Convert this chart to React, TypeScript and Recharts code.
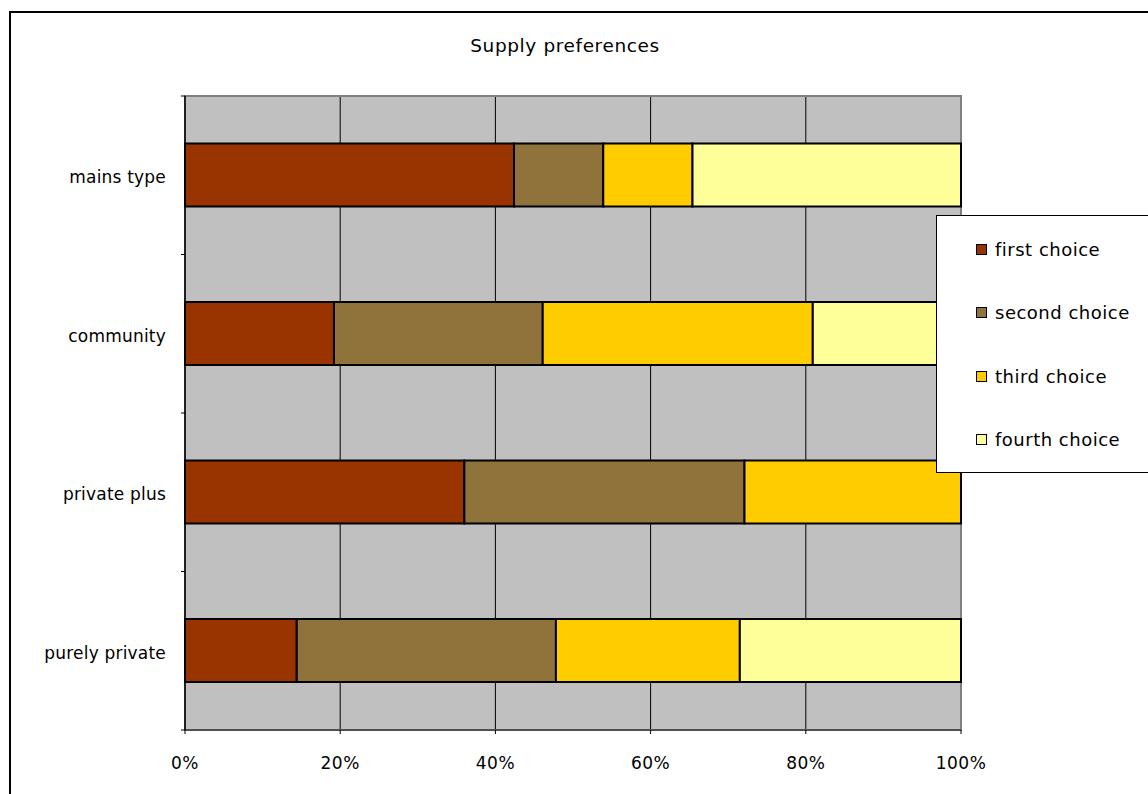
import React from "react";
import { BarChart, Bar, XAxis, YAxis, CartesianGrid, Legend, ReferenceArea } from "recharts";

const categories = ["mains type", "community", "private plus", "purely private"];
const seriesNames = ["first choice", "second choice", "third choice", "fourth choice"];
const seriesColors = ["#993300", "#8F733B", "#FFCC00", "#FFFF99"];
const firstChoice = [42.4, 19.2, 36.0, 14.4];
const secondChoice = [11.5, 26.9, 36.1, 33.4];
const thirdChoice = [11.5, 34.8, 27.9, 23.7];
const fourthChoice = [34.6, 19.1, 0, 28.5];
const xTicks = [0, 0.2, 0.4, 0.6, 0.8, 1];
const title = "Supply preferences";

const seriesValues = [firstChoice, secondChoice, thirdChoice, fourthChoice];
const data = categories.map((c, i) => {
  const row: Record<string, string | number> = { name: c };
  seriesNames.forEach((s, j) => {
    row[s] = seriesValues[j][i];
  });
  return row;
});

const FONT = "'DejaVu Sans', Verdana, sans-serif";
const TICK_SIZE = 4;
const TICK_MARGIN = 15;

const CategoryTick = (props: any) => {
  const { x, y, payload, index, visibleTicksCount } = props;
  const off = payload && typeof payload.offset === "number" ? payload.offset : 0;
  const axisX = x + TICK_MARGIN + TICK_SIZE;
  const isLast = index === (visibleTicksCount ?? categories.length) - 1;
  return (
    <g>
      <text
        x={x}
        y={y + 2}
        textAnchor="end"
        dominantBaseline="central"
        fill="#000"
        style={{ fontFamily: FONT, fontSize: 17, letterSpacing: 0.2 }}
      >
        {payload.value}
      </text>
      <line x1={axisX - TICK_SIZE} x2={axisX} y1={y - off} y2={y - off} stroke="#000" />
      {isLast && <line x1={axisX - TICK_SIZE} x2={axisX} y1={y + off} y2={y + off} stroke="#000" />}
    </g>
  );
};

const LegendContent = () => (
  <div
    style={{
      width: 230,
      height: 258,
      background: "#fff",
      border: "1px solid #000",
      boxSizing: "border-box",
      position: "relative",
      fontFamily: FONT,
      fontSize: 18,
      letterSpacing: 0.5,
      color: "#000",
    }}
  >
    {seriesNames.map((s, i) => (
      <div
        key={s}
        style={{
          position: "absolute",
          left: 39,
          top: 21 + i * 63.5,
          height: 24,
          display: "flex",
          alignItems: "center",
          whiteSpace: "nowrap",
        }}
      >
        <span
          style={{
            display: "inline-block",
            width: 9,
            height: 9,
            background: seriesColors[i],
            border: "1.5px solid #000",
            marginRight: 8,
          }}
        />
        <span>{s}</span>
      </div>
    ))}
  </div>
);

export default function App() {
  return (
    <div
      style={{
        position: "absolute",
        left: 0,
        top: 0,
        width: 1148,
        height: 794,
        overflow: "hidden",
        background: "#fff",
      }}
    >
      <div
        style={{
          position: "absolute",
          left: 9,
          top: 11,
          width: 1200,
          height: 900,
          border: "2px solid #000",
        }}
      />
      <div
        style={{
          position: "absolute",
          left: 365,
          width: 400,
          top: 35,
          textAlign: "center",
          fontFamily: FONT,
          fontSize: 18.5,
          letterSpacing: 0.6,
          color: "#000",
        }}
      >
        {title}
      </div>
      <div style={{ position: "absolute", left: 0, top: 0 }}>
        <BarChart
          width={1148}
          height={794}
          data={data}
          layout="vertical"
          stackOffset="expand"
          barCategoryGap="30%"
          margin={{ top: 96, right: 187, bottom: 24, left: 0 }}
        >
          <CartesianGrid
            horizontal={false}
            vertical={true}
            stroke="#000"
            strokeWidth={1}
            fill="#C0C0C0"
            fillOpacity={1}
            verticalValues={xTicks}
          />
          <ReferenceArea
            x1={0}
            x2={1}
            fill="none"
            stroke="#808080"
            strokeWidth={2}
            ifOverflow="visible"
          />
          {seriesNames.map((s, i) => (
            <Bar
              key={s}
              dataKey={s}
              stackId="a"
              fill={seriesColors[i]}
              stroke="#000"
              strokeWidth={2}
              isAnimationActive={false}
            />
          ))}
          <XAxis
            type="number"
            domain={[0, 1]}
            ticks={xTicks}
            tickFormatter={(v: number) => `${Math.round(v * 100)}%`}
            axisLine={{ stroke: "#404040", strokeWidth: 1.5 }}
            tickLine={{ stroke: "#000" }}
            tickSize={TICK_SIZE}
            tickMargin={23}
            height={40}
            tick={{ fill: "#000", fontFamily: FONT, fontSize: 17, letterSpacing: 0.5 }}
            interval={0}
          />
          <YAxis
            type="category"
            dataKey="name"
            width={185}
            axisLine={{ stroke: "#000", strokeWidth: 1.5 }}
            tickLine={false}
            tickSize={TICK_SIZE}
            tickMargin={TICK_MARGIN}
            tick={<CategoryTick />}
            interval={0}
          />
          <Legend
            layout="horizontal"
            verticalAlign="middle"
            align="center"
            content={<LegendContent />}
            wrapperStyle={{ position: "absolute", left: 936, top: 215, width: 230, height: 258 }}
          />
        </BarChart>
      </div>
    </div>
  );
}
